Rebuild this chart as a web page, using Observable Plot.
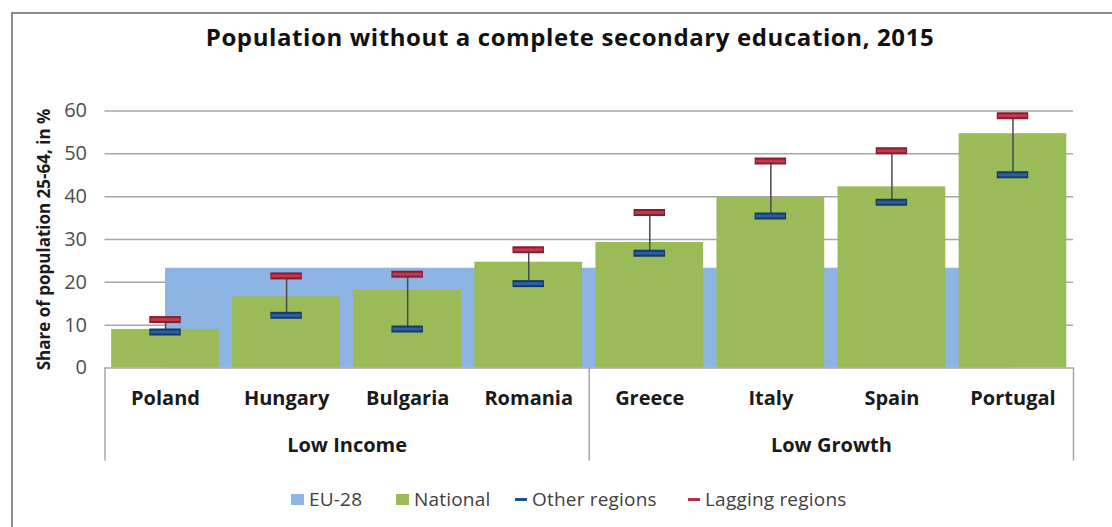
<!DOCTYPE html>
<html><head><meta charset="utf-8">
<script src="https://cdn.jsdelivr.net/npm/d3@7"></script>
<script src="https://cdn.jsdelivr.net/npm/@observablehq/plot@0.6"></script>
<style>
body{margin:0;background:#fff;width:1112px;height:527px;overflow:hidden;position:relative;font-family:"Open Sans",sans-serif;}
#frame{position:absolute;left:11px;top:12px;width:1200px;height:600px;border:2px solid #8c8c8c;}
#title{position:absolute;top:20px;left:0;width:1140px;text-align:center;font-weight:700;font-size:24px;letter-spacing:0.6px;color:#111;line-height:34px;}
#chart{position:absolute;left:0;top:60px;}
#legend{position:absolute;top:485px;left:0;width:1112px;height:28px;font-size:19px;letter-spacing:0.2px;color:#404040;}
.item{position:absolute;top:0;display:flex;align-items:center;height:28px;white-space:nowrap;}
.sw{display:inline-block;width:13px;height:11px;margin-right:5px;}
.dash{display:inline-block;width:12px;height:3px;margin-right:5px;}
</style></head>
<body>
<div id="frame"></div>
<div id="title">Population without a complete secondary education, 2015</div>
<div id="chart"></div>
<div id="legend"></div>
<script>
const countries = ["Poland","Hungary","Bulgaria","Romania","Greece","Italy","Spain","Portugal"];
const groupOf = ["Low Income","Low Income","Low Income","Low Income","Low Growth","Low Growth","Low Growth","Low Growth"];
const national = [9.0,16.6,18.1,24.7,29.3,39.8,42.3,54.7];
const otherRegions = [8.4,12.3,9.1,19.7,26.8,35.5,38.7,45.1];
const laggingRegions = [11.3,21.5,21.9,27.6,36.3,48.3,50.7,58.9];
const eu28 = [23.3,23.3,23.3,23.3,23.3,23.3,23.3,23.3];
const yTicks = [0,10,20,30,40,50,60];
const groupNames = ["Low Income","Low Growth"];
const legendLabels = ["EU-28","National","Other regions","Lagging regions"];

const colors = {eu:"#8db4e2", nat:"#9bbb59", other:"#1f4e8c", lag:"#b0303f"};

const rows = countries.map((c,i)=>({i, country:c, group:groupOf[i], national:national[i], other:otherRegions[i], lagging:laggingRegions[i], eu:eu28[i]}));
const groups = groupNames.map(g=>{
  const idx = rows.filter(r=>r.group===g).map(r=>r.i);
  return {name:g, mid:d3.mean(idx), lo:d3.min(idx)-0.5, hi:d3.max(idx)+0.5};
});
const bounds = Array.from(new Set(groups.flatMap(g=>[g.lo,g.hi])));

const half = 0.445, mk = 0.13;
const grid = "#a6a6a6";

const chart = Plot.plot({
  width:1112, height:410,
  marginLeft:104.5, marginRight:39, marginTop:50.5, marginBottom:102.5,
  x:{type:"linear", domain:[-0.5,7.5]},
  y:{domain:[0,60]},
  style:{fontFamily:"'Open Sans', sans-serif", background:"transparent"},
  marks:[
    Plot.ruleY(yTicks.filter(t=>t>0), {stroke:grid, strokeWidth:1.5}),
    Plot.areaY(rows, {x:"i", y:"eu", fill:colors.eu}),
    Plot.rectY(rows, {x1:d=>d.i-half, x2:d=>d.i+half, y:"national", fill:colors.nat}),
    Plot.ruleY([0], {stroke:grid, strokeWidth:1.5}),
    Plot.ruleX(rows, {x:"i", y1:"other", y2:"lagging", stroke:"#4a4a4a", strokeWidth:1.5}),
    Plot.ruleY(rows, {y:"other", x1:d=>d.i-mk, x2:d=>d.i+mk, stroke:"#163a66", strokeWidth:7}),
    Plot.ruleY(rows, {y:"other", x1:d=>d.i-mk+0.01, x2:d=>d.i+mk-0.01, stroke:"#2a5fa6", strokeWidth:3}),
    Plot.ruleY(rows, {y:"lagging", x1:d=>d.i-mk, x2:d=>d.i+mk, stroke:"#8a1c30", strokeWidth:7}),
    Plot.ruleY(rows, {y:"lagging", x1:d=>d.i-mk+0.01, x2:d=>d.i+mk-0.01, stroke:"#bf3a4e", strokeWidth:3}),
    Plot.axisX({ticks:bounds, tickSize:93, tickFormat:()=>"", stroke:grid, strokeWidth:1.5, label:null}),
    Plot.axisX({ticks:rows.map(r=>r.i), tickSize:0, tickPadding:23, tickFormat:i=>countries[i], fontSize:20, fontWeight:"bold", fill:"#1a1a1a", label:null}),
    Plot.axisX({ticks:groups.map(g=>g.mid), tickSize:0, tickPadding:70, tickFormat:m=>groups.find(g=>g.mid===m).name, fontSize:20, fontWeight:"bold", fill:"#1a1a1a", label:null}),
    Plot.axisY({ticks:yTicks, tickSize:0, tickPadding:18, fontSize:20, fill:"#4d4d4d", label:null}),
    Plot.text(["Share of population 25-64, in %"], {frameAnchor:"left", dx:-60, rotate:-90, text:d=>d, fontSize:17, fontWeight:"bold", fill:"#1a1a1a", textAnchor:"middle"})
  ]
});
document.getElementById("chart").appendChild(chart);

const legend = document.getElementById("legend");
const items = [
  {label:legendLabels[0], color:colors.eu, kind:"sw", left:291},
  {label:legendLabels[1], color:colors.nat, kind:"sw", left:396},
  {label:legendLabels[2], color:colors.other, kind:"dash", left:515},
  {label:legendLabels[3], color:colors.lag, kind:"dash", left:688}
];
for (const it of items){
  const d = document.createElement("div");
  d.className="item"; d.style.left = it.left+"px";
  const s = document.createElement("span"); s.className=it.kind; s.style.background=it.color;
  const t = document.createElement("span"); t.textContent = it.label;
  d.appendChild(s); d.appendChild(t); legend.appendChild(d);
}
</script>
</body></html>
